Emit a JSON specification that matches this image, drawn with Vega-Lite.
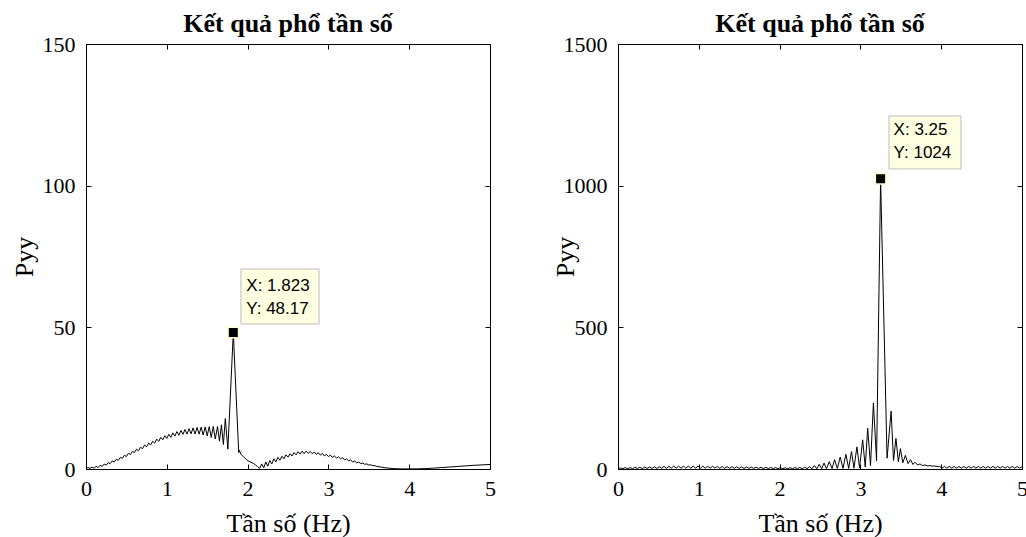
{
"$schema": "https://vega.github.io/schema/vega-lite/v6.json",
"background": "white",
"padding": {"left": 10, "top": 10, "right": 5, "bottom": 5},
"spacing": 128,
"bounds": "flush",
"config": {
 "view": {"stroke": "#000", "strokeWidth": 1},
 "axis": {"grid": false, "domain": false, "tickColor": "#000", "tickSize": -5, "labelFlush": false, "labelFont": "Liberation Serif", "labelFontSize": 22, "labelColor": "#000", "titleFont": "Liberation Serif", "titleFontSize": 26, "titleFontWeight": "normal", "titleColor": "#000"},
 "title": {"font": "Liberation Serif", "fontSize": 26, "fontWeight": "bold", "color": "#000"}
},
"datasets": {
 "left": [
  {"f":0,"p":0.3},{"f":0.025,"p":0.55},{"f":0.05,"p":0.2},{"f":0.075,"p":0.7},{"f":0.1,"p":0.25},{"f":0.125,"p":0.95},{"f":0.15,"p":0.5},{"f":0.175,"p":1.3},{"f":0.2,"p":0.9},{"f":0.225,"p":1.75},{"f":0.25,"p":1.4},{"f":0.275,"p":2.25},{"f":0.3,"p":1.9},{"f":0.325,"p":2.85},{"f":0.35,"p":2.45},{"f":0.375,"p":3.45},{"f":0.4,"p":3.05},{"f":0.425,"p":4.1},{"f":0.45,"p":3.75},{"f":0.475,"p":4.85},{"f":0.5,"p":4.4},{"f":0.525,"p":5.55},{"f":0.55,"p":5.1},{"f":0.575,"p":6.25},{"f":0.6,"p":5.8},{"f":0.625,"p":7.0},{"f":0.65,"p":6.45},{"f":0.675,"p":7.7},{"f":0.7,"p":7.15},{"f":0.725,"p":8.45},{"f":0.75,"p":7.8},{"f":0.775,"p":9.15},{"f":0.8,"p":8.5},{"f":0.825,"p":9.8},{"f":0.85,"p":9.15},{"f":0.875,"p":10.55},{"f":0.9,"p":9.75},{"f":0.925,"p":11.15},{"f":0.95,"p":10.3},{"f":0.975,"p":11.75},{"f":1.0,"p":10.8},{"f":1.025,"p":12.25},{"f":1.05,"p":11.2},{"f":1.075,"p":12.75},{"f":1.1,"p":11.6},{"f":1.125,"p":13.2},{"f":1.15,"p":11.9},{"f":1.175,"p":13.6},{"f":1.2,"p":12.2},{"f":1.225,"p":13.95},{"f":1.25,"p":12.3},{"f":1.275,"p":14.25},{"f":1.3,"p":12.4},{"f":1.325,"p":14.5},{"f":1.35,"p":12.35},{"f":1.375,"p":14.65},{"f":1.4,"p":12.3},{"f":1.425,"p":14.75},{"f":1.45,"p":12.0},{"f":1.475,"p":14.85},{"f":1.5,"p":11.7},{"f":1.525,"p":14.95},{"f":1.55,"p":11.15},{"f":1.575,"p":15.05},{"f":1.6,"p":10.6},{"f":1.628,"p":15.0},{"f":1.652,"p":9.8},{"f":1.676,"p":15.6},{"f":1.7,"p":8.6},{"f":1.724,"p":17.8},{"f":1.756,"p":7.0},{"f":1.823,"p":48.17},{"f":1.89,"p":5.8},{"f":1.9,"p":6.6},{"f":1.915,"p":5.3},{"f":1.95,"p":4.3},{"f":1.98,"p":3.5},{"f":2.01,"p":2.8},{"f":2.04,"p":2.4},{"f":2.07,"p":2.0},{"f":2.1,"p":1.4},{"f":2.125,"p":0.8},{"f":2.15,"p":0.2},{"f":2.175,"p":1.8},{"f":2.2,"p":0.4},{"f":2.225,"p":2.5},{"f":2.25,"p":1.0},{"f":2.275,"p":3.0},{"f":2.3,"p":1.8},{"f":2.325,"p":3.6},{"f":2.35,"p":2.5},{"f":2.375,"p":4.1},{"f":2.4,"p":3.1},{"f":2.425,"p":4.5},{"f":2.45,"p":3.6},{"f":2.475,"p":5.0},{"f":2.5,"p":4.2},{"f":2.525,"p":5.4},{"f":2.55,"p":4.6},{"f":2.575,"p":5.8},{"f":2.6,"p":5.0},{"f":2.625,"p":6.1},{"f":2.65,"p":5.3},{"f":2.675,"p":6.3},{"f":2.7,"p":5.4},{"f":2.725,"p":6.3},{"f":2.75,"p":5.5},{"f":2.775,"p":6.2},{"f":2.8,"p":5.4},{"f":2.825,"p":6.0},{"f":2.85,"p":5.2},{"f":2.875,"p":5.8},{"f":2.9,"p":4.9},{"f":2.925,"p":5.5},{"f":2.95,"p":4.6},{"f":2.975,"p":5.2},{"f":3.0,"p":4.4},{"f":3.025,"p":4.9},{"f":3.05,"p":4.1},{"f":3.075,"p":4.6},{"f":3.1,"p":3.9},{"f":3.125,"p":4.3},{"f":3.15,"p":3.6},{"f":3.175,"p":4.0},{"f":3.2,"p":3.2},{"f":3.225,"p":3.6},{"f":3.25,"p":2.9},{"f":3.275,"p":3.2},{"f":3.3,"p":2.5},{"f":3.325,"p":2.8},{"f":3.35,"p":2.2},{"f":3.375,"p":2.45},{"f":3.4,"p":1.9},{"f":3.425,"p":2.1},{"f":3.45,"p":1.65},{"f":3.475,"p":1.8},{"f":3.5,"p":1.4},{"f":3.525,"p":1.5},{"f":3.55,"p":1.15},{"f":3.575,"p":1.2},{"f":3.6,"p":0.9},{"f":3.65,"p":0.7},{"f":3.7,"p":0.45},{"f":3.75,"p":0.3},{"f":3.8,"p":0.15},{"f":3.85,"p":0.08},{"f":3.9,"p":0.04},{"f":4.0,"p":0.02},{"f":4.1,"p":0.05},{"f":4.2,"p":0.15},{"f":4.3,"p":0.3},{"f":4.4,"p":0.5},{"f":4.5,"p":0.7},{"f":4.6,"p":0.9},{"f":4.7,"p":1.1},{"f":4.8,"p":1.3},{"f":4.9,"p":1.45},{"f":5.0,"p":1.6}
 ],
 "right": [
  {"f":0,"p":1},{"f":0.03,"p":4},{"f":0.06,"p":1},{"f":0.09,"p":5},{"f":0.12,"p":1},{"f":0.15,"p":5},{"f":0.18,"p":1},{"f":0.21,"p":6},{"f":0.24,"p":1.5},{"f":0.27,"p":6},{"f":0.3,"p":1.5},{"f":0.33,"p":7},{"f":0.36,"p":2},{"f":0.39,"p":7},{"f":0.42,"p":2},{"f":0.45,"p":8},{"f":0.48,"p":2},{"f":0.51,"p":8},{"f":0.54,"p":2.5},{"f":0.57,"p":9},{"f":0.6,"p":2.5},{"f":0.63,"p":9},{"f":0.66,"p":3},{"f":0.69,"p":10},{"f":0.72,"p":3},{"f":0.75,"p":10},{"f":0.78,"p":3},{"f":0.81,"p":10},{"f":0.84,"p":3},{"f":0.87,"p":10},{"f":0.9,"p":3},{"f":0.93,"p":10},{"f":0.96,"p":3},{"f":0.99,"p":10},{"f":1.02,"p":3},{"f":1.05,"p":10},{"f":1.08,"p":3},{"f":1.11,"p":9.5},{"f":1.14,"p":3},{"f":1.17,"p":9.5},{"f":1.2,"p":3},{"f":1.23,"p":9},{"f":1.26,"p":2.5},{"f":1.29,"p":9},{"f":1.32,"p":2.5},{"f":1.35,"p":8.5},{"f":1.38,"p":2.5},{"f":1.41,"p":8},{"f":1.44,"p":2.5},{"f":1.47,"p":8},{"f":1.5,"p":2},{"f":1.53,"p":7.5},{"f":1.56,"p":2},{"f":1.59,"p":7},{"f":1.62,"p":2},{"f":1.65,"p":7},{"f":1.68,"p":2},{"f":1.71,"p":6.5},{"f":1.74,"p":2},{"f":1.77,"p":6},{"f":1.8,"p":1.5},{"f":1.83,"p":6},{"f":1.86,"p":1.5},{"f":1.89,"p":5.5},{"f":1.92,"p":1.5},{"f":1.95,"p":5},{"f":1.98,"p":1.5},{"f":2.01,"p":5},{"f":2.04,"p":1},{"f":2.07,"p":4.5},{"f":2.1,"p":1},{"f":2.13,"p":4.5},{"f":2.16,"p":1},{"f":2.19,"p":5},{"f":2.22,"p":1},{"f":2.25,"p":5.5},{"f":2.28,"p":1},{"f":2.31,"p":6.5},{"f":2.34,"p":1},{"f":2.37,"p":9},{"f":2.4,"p":1},{"f":2.43,"p":12},{"f":2.46,"p":1},{"f":2.49,"p":16.6},{"f":2.52,"p":1},{"f":2.55,"p":21},{"f":2.58,"p":1},{"f":2.615,"p":26},{"f":2.65,"p":1.5},{"f":2.68,"p":33},{"f":2.715,"p":1.5},{"f":2.75,"p":42},{"f":2.785,"p":2},{"f":2.82,"p":52},{"f":2.855,"p":2},{"f":2.89,"p":62},{"f":2.92,"p":3},{"f":2.957,"p":78},{"f":2.99,"p":4},{"f":3.028,"p":103},{"f":3.06,"p":7},{"f":3.09,"p":144},{"f":3.125,"p":12},{"f":3.161,"p":233},{"f":3.2,"p":29},{"f":3.25,"p":1024},{"f":3.33,"p":38},{"f":3.38,"p":204},{"f":3.41,"p":30},{"f":3.44,"p":108},{"f":3.47,"p":25},{"f":3.495,"p":72},{"f":3.525,"p":22},{"f":3.557,"p":48},{"f":3.59,"p":19},{"f":3.62,"p":33},{"f":3.65,"p":16},{"f":3.675,"p":24},{"f":3.71,"p":14},{"f":3.737,"p":18},{"f":3.77,"p":12},{"f":3.8,"p":14.5},{"f":3.83,"p":11},{"f":3.86,"p":12},{"f":3.89,"p":10},{"f":3.92,"p":10.5},{"f":3.95,"p":9},{"f":3.98,"p":9},{"f":4.01,"p":3},{"f":4.04,"p":9},{"f":4.07,"p":3},{"f":4.1,"p":9},{"f":4.13,"p":3},{"f":4.16,"p":9},{"f":4.19,"p":3},{"f":4.22,"p":9},{"f":4.25,"p":3},{"f":4.28,"p":9},{"f":4.31,"p":3},{"f":4.34,"p":9},{"f":4.37,"p":3},{"f":4.4,"p":9},{"f":4.43,"p":3},{"f":4.46,"p":9},{"f":4.49,"p":3},{"f":4.52,"p":9},{"f":4.55,"p":3},{"f":4.58,"p":9},{"f":4.61,"p":3},{"f":4.64,"p":9},{"f":4.67,"p":3},{"f":4.7,"p":9},{"f":4.73,"p":3},{"f":4.76,"p":9},{"f":4.79,"p":3},{"f":4.82,"p":9},{"f":4.85,"p":3},{"f":4.88,"p":9},{"f":4.91,"p":3},{"f":4.94,"p":9},{"f":4.97,"p":3},{"f":5.0,"p":8}
 ],
 "leftTip": [{"x": 1.823, "y": 48.17, "t1": "X: 1.823", "t2": "Y: 48.17"}],
 "leftBox": [{"x1": 1.918, "x2": 2.884, "y1": 51.2, "y2": 70.6}],
 "rightTip": [{"x": 3.25, "y": 1024, "t1": "X: 3.25", "t2": "Y: 1024"}],
 "rightBox": [{"x1": 3.354, "x2": 4.245, "y1": 1059, "y2": 1246}]
},
"hconcat": [
 {
  "width": 404, "height": 425,
  "title": {"text": "Kết quả phổ tần số", "offset": -25, "baseline": "alphabetic"},
  "layer": [
   {"data": {"name": "left"}, "mark": {"type": "line", "color": "#000", "strokeWidth": 1},
    "encoding": {
     "x": {"field": "f", "type": "quantitative", "scale": {"domain": [0, 5], "nice": false}, "axis": {"orient": "bottom", "values": [0,1,2,3,4,5], "format": "d", "title": "Tần số (Hz)", "labelPadding": 14, "titlePadding": 11}},
     "y": {"field": "p", "type": "quantitative", "scale": {"domain": [0, 150], "nice": false}, "axis": {"orient": "left", "values": [0,50,100,150], "format": "d", "title": "Pyy", "labelPadding": 16, "titlePadding": 5}}
    }},
   {"data": {"name": "leftBox"}, "mark": {"type": "rect", "fill": "#FFFFE1", "stroke": "#BEBEBE", "strokeWidth": 1},
    "encoding": {
     "x": {"field": "x1", "type": "quantitative", "scale": {"domain": [0, 5], "nice": false}, "axis": null},
     "x2": {"field": "x2"},
     "y": {"field": "y1", "type": "quantitative", "scale": {"domain": [0, 150], "nice": false}, "axis": null},
     "y2": {"field": "y2"}
    }},
   {"data": {"name": "leftTip"}, "mark": {"type": "point", "shape": "square", "filled": true, "fill": "#000", "stroke": "#FFFFC8", "strokeWidth": 1.5, "size": 110, "opacity": 1},
    "encoding": {
     "x": {"field": "x", "type": "quantitative", "scale": {"domain": [0, 5], "nice": false}, "axis": {"orient": "top", "values": [0,1,2,3,4,5], "labels": false, "title": null}},
     "y": {"field": "y", "type": "quantitative", "scale": {"domain": [0, 150], "nice": false}, "axis": {"orient": "right", "values": [0,50,100,150], "labels": false, "title": null}}
    }},
   {"data": {"name": "leftTip"}, "mark": {"type": "text", "align": "left", "baseline": "middle", "dx": 13, "dy": -47, "font": "Liberation Sans", "fontSize": 17, "color": "#000"},
    "encoding": {
     "x": {"field": "x", "type": "quantitative", "axis": null},
     "y": {"field": "y", "type": "quantitative", "axis": null},
     "text": {"field": "t1"}
    }},
   {"data": {"name": "leftTip"}, "mark": {"type": "text", "align": "left", "baseline": "middle", "dx": 13, "dy": -24, "font": "Liberation Sans", "fontSize": 17, "color": "#000"},
    "encoding": {
     "x": {"field": "x", "type": "quantitative", "axis": null},
     "y": {"field": "y", "type": "quantitative", "axis": null},
     "text": {"field": "t2"}
    }}
  ]
 },
 {
  "width": 404, "height": 425,
  "title": {"text": "Kết quả phổ tần số", "offset": -25, "baseline": "alphabetic"},
  "layer": [
   {"data": {"name": "right"}, "mark": {"type": "line", "color": "#000", "strokeWidth": 1},
    "encoding": {
     "x": {"field": "f", "type": "quantitative", "scale": {"domain": [0, 5], "nice": false}, "axis": {"orient": "bottom", "values": [0,1,2,3,4,5], "format": "d", "title": "Tần số (Hz)", "labelPadding": 14, "titlePadding": 11}},
     "y": {"field": "p", "type": "quantitative", "scale": {"domain": [0, 1500], "nice": false}, "axis": {"orient": "left", "values": [0,500,1000,1500], "format": "d", "title": "Pyy", "labelPadding": 16, "titlePadding": -15}}
    }},
   {"data": {"name": "rightBox"}, "mark": {"type": "rect", "fill": "#FFFFE1", "stroke": "#BEBEBE", "strokeWidth": 1},
    "encoding": {
     "x": {"field": "x1", "type": "quantitative", "scale": {"domain": [0, 5], "nice": false}, "axis": null},
     "x2": {"field": "x2"},
     "y": {"field": "y1", "type": "quantitative", "scale": {"domain": [0, 1500], "nice": false}, "axis": null},
     "y2": {"field": "y2"}
    }},
   {"data": {"name": "rightTip"}, "mark": {"type": "point", "shape": "square", "filled": true, "fill": "#000", "stroke": "#FFFFC8", "strokeWidth": 1.5, "size": 110, "opacity": 1},
    "encoding": {
     "x": {"field": "x", "type": "quantitative", "scale": {"domain": [0, 5], "nice": false}, "axis": {"orient": "top", "values": [0,1,2,3,4,5], "labels": false, "title": null}},
     "y": {"field": "y", "type": "quantitative", "scale": {"domain": [0, 1500], "nice": false}, "axis": {"orient": "right", "values": [0,500,1000,1500], "labels": false, "title": null}}
    }},
   {"data": {"name": "rightTip"}, "mark": {"type": "text", "align": "left", "baseline": "middle", "dx": 13, "dy": -49, "font": "Liberation Sans", "fontSize": 17, "color": "#000"},
    "encoding": {
     "x": {"field": "x", "type": "quantitative", "axis": null},
     "y": {"field": "y", "type": "quantitative", "axis": null},
     "text": {"field": "t1"}
    }},
   {"data": {"name": "rightTip"}, "mark": {"type": "text", "align": "left", "baseline": "middle", "dx": 13, "dy": -26, "font": "Liberation Sans", "fontSize": 17, "color": "#000"},
    "encoding": {
     "x": {"field": "x", "type": "quantitative", "axis": null},
     "y": {"field": "y", "type": "quantitative", "axis": null},
     "text": {"field": "t2"}
    }}
  ]
 }
]
}
